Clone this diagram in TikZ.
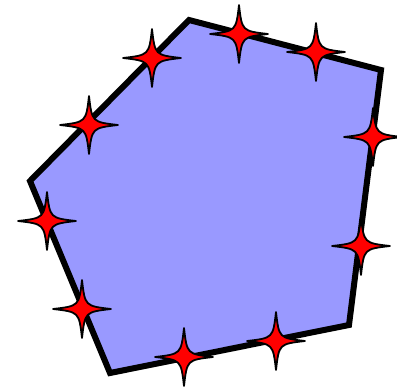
\documentclass[tikz,border=0pt]{standalone}
\definecolor{relleno}{RGB}{153,153,255}
\begin{document}
\begin{tikzpicture}[x=1pt,y=-1pt,line join=miter,
  estrella/.pic={\draw[fill=red,line width=1.8pt,line join=round]
    (0,-29) .. controls (3,-3) .. (29,0) .. controls (3,3) .. (0,29)
    .. controls (-3,3) .. (-29,0) .. controls (-3,-3) .. cycle;}]
  \useasboundingbox (0,0) rectangle (397,389);
  % poligono
  \draw[fill=relleno,line width=6pt] (189,20) -- (381,70) -- (349,325) -- (110,373) -- (30,181) -- cycle;
  % estrellas sobre el borde
  \foreach \p in {(152,58),(239,34),(316,52),(373,137),(361,246),(276,341),(184,357),(82,309),(47,221),(89,125)}
    \pic at \p {estrella};
\end{tikzpicture}
\end{document}
